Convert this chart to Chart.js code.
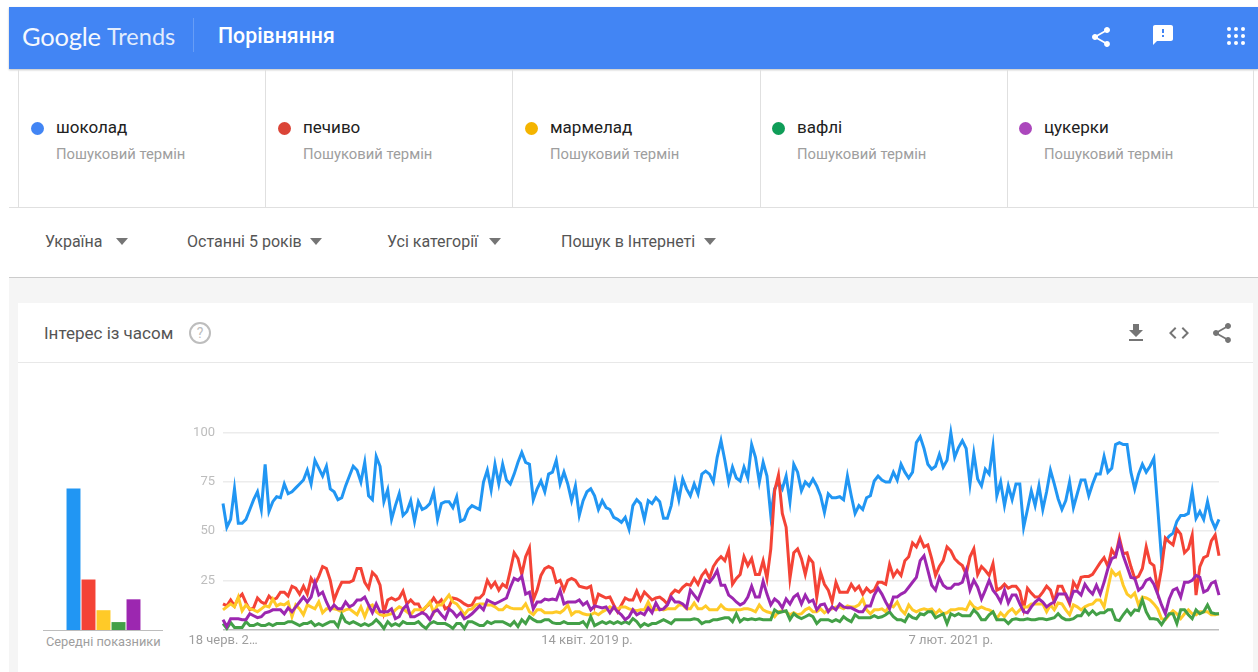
<!DOCTYPE html>
<html lang="uk">
<head>
<meta charset="utf-8">
<title>Порівняння</title>
<script src="https://cdn.jsdelivr.net/npm/chart.js@4"></script>
<style>
  html, body { margin: 0; background: #fff; }
  body { position: relative; width: 1258px; height: 672px; overflow: hidden; font-family: Roboto, sans-serif; }
  .abs { position: absolute; white-space: nowrap; }
  #header { left: 9px; top: 7px; width: 1249px; height: 62px; background: #4285f4; box-shadow: 0 1px 2px rgba(0,0,0,.25); }
  #page { left: 9px; top: 277px; width: 1249px; height: 395px; background: #f5f5f5; border-top: 1px solid #ccc; }
  #card { left: 18px; top: 303px; width: 1235px; height: 369px; background: #fff; }
  .term { top: 70px; height: 137px; border-left: 1px solid #e0e0e0; box-sizing: border-box; }
  .dot { width: 13px; height: 13px; border-radius: 50%; top: 122px; }
  .name { top: 117px; font-size: 17px; color: #212121; }
  .sub { top: 145px; font-size: 14.8px; color: #9e9e9e; }
  .filter { top: 232px; font-size: 16px; color: #555; }
  .arrow { width: 0; height: 0; border-left: 6px solid transparent; border-right: 6px solid transparent; border-top: 7px solid #757575; }
  canvas { position: absolute; }
</style>
</head>
<body>
<div class="abs" id="header"></div>
<div class="abs" style="left:22px;top:21px;font:400 25.5px Lato,sans-serif;letter-spacing:-.2px;color:#fff;opacity:.95">Google</div>
<div class="abs" style="left:107px;top:22px;font:400 23.5px Lato,sans-serif;color:#fff;opacity:.85">Trends</div>
<div class="abs" style="left:193px;top:18px;width:1px;height:34px;background:rgba(255,255,255,.2)"></div>
<div class="abs" style="left:218px;top:23px;font:500 21.3px Roboto,sans-serif;color:#fff">Порівняння</div>

<svg class="abs" style="left:1089px;top:25px" width="24" height="24" viewBox="0 0 24 24" fill="#fff"><path d="M18 16.08c-.76 0-1.44.3-1.96.77L8.91 12.7c.05-.23.09-.46.09-.7s-.04-.47-.09-.7l7.05-4.11c.54.5 1.25.81 2.04.81 1.66 0 3-1.34 3-3s-1.34-3-3-3-3 1.34-3 3c0 .24.04.47.09.7L8.04 9.81C7.5 9.31 6.79 9 6 9c-1.66 0-3 1.34-3 3s1.34 3 3 3c.79 0 1.5-.31 2.04-.81l7.12 4.16c-.05.21-.08.43-.08.65 0 1.61 1.31 2.92 2.92 2.92s2.92-1.31 2.92-2.92-1.31-2.92-2.92-2.92z"/></svg>
<svg class="abs" style="left:1151px;top:23px" width="24" height="24" viewBox="0 0 24 24" fill="#fff"><path d="M20 2H4c-1.1 0-2 .9-2 2v18l4-4h14c1.1 0 2-.9 2-2V4c0-1.1-.9-2-2-2zm-7 12h-2v-2h2v2zm0-4h-2V6h2v4z"/></svg>
<svg class="abs" style="left:1227px;top:27px" width="18" height="18" viewBox="0 0 18 18" fill="#fff"><circle cx="2" cy="2" r="2"/><circle cx="9" cy="2" r="2"/><circle cx="16" cy="2" r="2"/><circle cx="2" cy="9" r="2"/><circle cx="9" cy="9" r="2"/><circle cx="16" cy="9" r="2"/><circle cx="2" cy="16" r="2"/><circle cx="9" cy="16" r="2"/><circle cx="16" cy="16" r="2"/></svg>

<div id="terms"></div>
<div class="abs" style="left:9px;top:207px;width:1249px;height:1px;background:#e0e0e0"></div>
<div class="abs" style="left:1253px;top:70px;width:1px;height:137px;background:#e0e0e0"></div>

<div id="filters"></div>

<div class="abs" id="page"></div>
<div class="abs" id="card"></div>
<div class="abs" style="left:18px;top:362px;width:1235px;height:1px;background:#e8e8e8"></div>
<div class="abs" style="left:44px;top:323px;font-size:17px;color:#555">Інтерес із часом</div>
<svg class="abs" style="left:188px;top:321px" width="24" height="24" viewBox="0 0 24 24" fill="none"><circle cx="12" cy="12" r="10" stroke="#bdbdbd" stroke-width="2"/><text x="12" y="17" text-anchor="middle" font-family="Roboto" font-size="14" fill="#bdbdbd">?</text></svg>
<svg class="abs" style="left:1124px;top:321px" width="24" height="24" viewBox="0 0 24 24" fill="#757575"><path d="M19 9h-4V3H9v6H5l7 7 7-7zM5 18v2h14v-2H5z"/></svg>
<svg class="abs" style="left:1167px;top:321px" width="24" height="24" viewBox="0 0 24 24" fill="#757575"><path d="M9.4 16.6L4.8 12l4.6-4.6L8 6l-6 6 6 6 1.4-1.4zm5.2 0l4.6-4.6-4.6-4.6L16 6l6 6-6 6-1.4-1.4z"/></svg>
<svg class="abs" style="left:1210px;top:321px" width="24" height="24" viewBox="0 0 24 24" fill="#757575"><path d="M18 16.08c-.76 0-1.44.3-1.96.77L8.91 12.7c.05-.23.09-.46.09-.7s-.04-.47-.09-.7l7.05-4.11c.54.5 1.25.81 2.04.81 1.66 0 3-1.34 3-3s-1.34-3-3-3-3 1.34-3 3c0 .24.04.47.09.7L8.04 9.81C7.5 9.31 6.79 9 6 9c-1.66 0-3 1.34-3 3s1.34 3 3 3c.79 0 1.5-.31 2.04-.81l7.12 4.16c-.05.21-.08.43-.08.65 0 1.61 1.31 2.92 2.92 2.92s2.92-1.31 2.92-2.92-1.31-2.92-2.92-2.92z"/></svg>

<canvas id="avg-chart" width="75" height="198" style="left:66px;top:432px"></canvas>
<div class="abs" style="left:43px;top:630px;width:120px;height:1px;background:#bdbdbd"></div>
<div class="abs" style="left:46px;top:634px;font-size:12.8px;color:#9e9e9e">Середні показники</div>
<canvas id="trend-chart" width="1060" height="243" style="left:180px;top:417px"></canvas>

<script>
const termNames = ['шоколад', 'печиво', 'мармелад', 'вафлі', 'цукерки'];
const termSub = 'Пошуковий термін';
const termColors = ['#4285f4', '#db4437', '#f4b400', '#0f9d58', '#ab47bc'];
const lineColors = ['#2196f3', '#f44336', '#ffca28', '#43a047', '#9c27b0'];
const filterNames = ['Україна', 'Останні 5 років', 'Усі категорії', 'Пошук в Інтернеті'];

const tickIndexes = [0, 95, 190];
const tickLabels = ['18 черв. 2…', '14 квіт. 2019 р.', '7 лют. 2021 р.'];
const averages = [71.5, 25.5, 10, 4, 15.5];

const shokolad = [
  64,52,56,71.5,54,54,56,61,66,70,
  61,84,60,65,67.5,67,74,69,70,72,
  74,76,81,74,86,82,78,83,71.5,70,
  66,67,73,78,83,81,75,85,68,66,
  88,83,65,71,56,63,69,58,60,65.5,
  55,65,61,62,64,70,56,64,65,65,
  62,67.5,55,56,61,63,62,61,75,81,
  71,84,74,84,76,74,79,85,90,85,
  84,66,71.5,75.5,70,79,80,86,74,80,
  74,65.5,73,58,65.5,70,71.5,68,61,65.5,
  62,61,57,56,54.5,57,51,63,66,64,
  56,65.5,64,67,65,56.5,56.5,63,75,66,
  76.5,71.5,68,74,69,79,80.5,79,75,87.5,
  96,86,75,82.5,77,75.5,82.5,77,94,87.5,
  75,85,78,58,71.5,75,71.5,78,65,84,
  80,70.5,75,73,76.5,73,68,59.5,69,67,
  67,67.5,66,78,68,59,63,61,67,68,
  75.5,78,76,75,75,80,76,84,80,77,
  80,95,98,92,84,81.5,83,89,82.5,86,
  100,87.5,92.5,96,92,74,89.5,76.5,73,81.5,
  79,93,68,75,63,73,66,74,74,52,
  61,70.5,63,73,61,70,81,74,66.5,61,
  65.5,75,62,69,76,76,68,74,79,79,
  88,80,82,94,95,94,94,80,71.5,79,
  84,80,83,87,62,36,45,47.5,49,55,
  58,58,59,70.5,56.5,60,56,65,56,51.5,
  56,
];

const pechyvo = [
  13,12,15,12,16,18,13.5,10,11,16,
  14,13,17,15,16,19,19,17,22,21,
  18,22,18,26,23,27,32,31,25,15,
  20,24,24,24,25,31,31,24,21,29,
  27,22.5,8.5,15,16,15,16,19.5,13,15,
  13,13,9,11.5,13,16,13,15,10.5,11.5,
  16,15.5,14.5,13,12,12.5,16,16,18,25,
  21.5,24,20,23,21.5,30,39,36,28,37,
  41.5,15,20,27.5,31,32,31,24,25,20,
  25,26,25,22,21.5,21,22,12,18,17,
  16,16.5,12.5,9,12.5,16,15,15,19.5,15,
  19,17,15,16,16.5,15,13,18,20,19,
  21.5,23,22.5,26,23,27.5,30,26,32,35,
  37,35,40.5,23,26,28,37,32.5,36,28,
  28,35,26,41,70.5,78.5,59,52,26,39,
  41,36,28,36.5,34,16.5,29,23,20,14,
  24,19,19,19,23,20,22,18,21,19,
  20,24,24,23,33,27,30,27.5,35,37,
  44,42,46.5,42,43,36,27.5,32,35,42,
  40,36,34,32.5,28,37,41,28,32,30,
  27.5,33.5,20,21,23,21,22,22,19.5,10.5,
  21,18.5,16.5,16.5,19,22,20,14,22,22,
  17.5,13,24,21,26.5,27,27,28,31,34,
  36.5,32,40.5,37.5,46.5,38.5,39,32,26,27,
  31,42,34,32.5,20,31,46.5,44.5,43,51,
  48.5,39,41,48,17.5,32,36.5,37.5,45,48,
  37.5,
];

const marmelad = [
  10,11.5,13,11.5,16.5,9.5,12.5,10.5,10,9,
  10.5,12,11.5,15.5,12,13,12.5,14,6.5,12.5,
  10.5,7.5,12.5,11.5,10.5,14,8.5,10.5,10.5,10.5,
  10,9,10,10.5,9,7.5,11.5,6.5,11.5,12.5,
  9,7.5,7,7.5,8,10,11.5,10.5,9,7.5,
  10,10,10,11.5,14,8.5,12.5,12.5,15,17.5,
  14,13,10.5,7.5,10,10.5,12.5,13,13,12.5,
  12.5,11.5,10,10,12,11,10.5,10.5,10.5,13,
  9,7.5,10,10,8.5,8.5,8.5,9,8.5,10,
  12.5,7.5,9,9,8,7.5,7.5,8.5,7.5,9,
  10,11.5,10.5,10.5,11.5,11.5,10.5,10,9.5,10,
  10,14,10,10,10.5,10,10.5,10.5,10.5,12.5,
  12.5,10.5,10.5,13.5,10.5,10.5,12,10,10,10,
  12.5,10.5,10,10,10,10,10.5,10.5,10,9,
  12.5,10,9,8.5,6.5,9,9.5,9,7.5,8.5,
  7.5,8,10,11,9,9,10.5,8.5,10,10.5,
  11.5,11.5,10.5,12,11.5,11.5,12.5,15.5,10,8,
  10,10,10.5,9,12.5,11.5,14,10,8,12.5,
  10,9,10,10.5,10,10.5,8,10,8,8.5,
  10,10,10.5,10.5,10,14,11.5,10.5,11.5,10.5,
  10,9,5.5,8.5,6.5,9,10.5,8,10,11.5,
  11.5,13,13,13,13,9,12.5,10,13.5,13,
  10,7.5,12.5,11.5,10,11.5,12.5,13,15,15,
  11.5,21,30,27.5,29,22.5,18,16.5,18.5,12.5,
  16.5,16,15,13,10.5,5.5,5,7.5,9.5,8,
  5.5,8,10,8,7.5,9,9,9,7.5,7.5,
  8,
];

const vafli = [
  3,0.5,3.5,1,1,1,4,2,2,3,
  2,2,3,2,3,3,3,4,4,3,
  2,3,3,4,2,3,2,3,4,4,
  1.5,7.5,4,3,4,3,2,3,2,3,
  5,3,0.5,4,2,3,2,4,3,3,
  3,4,2,0.5,3,4,3,3,3,2,
  0.5,3,3,0.5,4,4,3,2,2,4,
  3,4,4,4,3,2,4,1.5,5,3,
  6.5,5,4,4,5,5,3.5,3,3,4,
  3,3,3,3,4,1.5,6.5,2,3,4,
  3,4,3,4,3,4,3,5.5,4,1.5,
  3,2,3,3,4,5,4,3,5,5,
  5,5,5,5.5,5,3,4,4,5,5,
  5.5,6,6,4,8,4,5.5,5,5.5,5,
  5.5,5,5,5,10,8.5,9,9.5,5,8,
  6.5,5.5,6.5,7.5,6.5,3,5,5,5,4,
  5,4,6.5,5,4,7.5,6,6,6,6,
  7,6,6.5,7.5,9,6.5,5,5,4,7.5,
  6,5.5,8,7.5,9,9,6,7,8,3,
  8,7,8,7,7,7,10,8,5,5,
  7.5,9,5,5,5,3,5,5.5,5,5,
  5.5,5,5,5.5,5.5,5,5.5,6,8,6,
  5,5,5.5,7,7,10,7.5,9.5,7.5,8.5,
  8.5,10,10,5,4.5,7.5,10,7.5,10,9.5,
  15,9,5.5,5.5,5,2.5,5.5,8,8,3,
  10,10,7.5,5.5,10,8,9,12.5,8.5,8,
  8,
];

const tsukerky = [
  5,1.5,5.5,5.5,5.5,5,5,8,7,6,
  6.5,8.5,9,10,10,10,8,11,9,11.5,
  14,16.5,14,16.5,24,17.5,19,14,10,12.5,
  10.5,10.5,14,11.5,12.5,15,15,16.5,12.5,8.5,
  13,9,9,9,10.5,5.5,6.5,10.5,12.5,6.5,
  6.5,7.5,8.5,7.5,5,9,10,7.5,5.5,10.5,
  9,6.5,8.5,5.5,6.5,8,10,12,10,15,
  14,13,14,15,16,21.5,26,25,27,18,
  19,10.5,14,14,15.5,15,15.5,15,20,13,
  14,14,14,15,12.5,14,10,12,11.5,11,
  11.5,8.5,11.5,9,7.5,5,6.5,10,7.5,8.5,
  7.5,11,8.5,13.5,10,10.5,12.5,16.5,14,14,
  13,11,20,17.5,15,20,25,24,26.5,30,
  22.5,22.5,17.5,16,14,12.5,13.5,16.5,22,16.5,
  16.5,24.5,18,12.5,15.5,14,11,15.5,13,16.5,
  18,13,17.5,14,15,10,12.5,13,9,11.5,
  10,13,11.5,11,11,10,9,9,12,12,
  17.5,21,18,14,10.5,16.5,16.5,18,19,21.5,
  24,26.5,35,37.5,30,22.5,20,26.5,22.5,21,
  21,23,23,24,30,20,25,21.5,15.5,20,
  25,20,17.5,14,20,13.5,17.5,17.5,13,9,
  8.5,11.5,14,15.5,14,11.5,13,14,18,18,
  18,14,19.5,19.5,17.5,23,20,18,22.5,18,
  24,31,36,37,44.5,37.5,32,26.5,26,20,
  21.5,25,26,23,18,12.5,8,15.5,20,21,
  16.5,24,24,25,27.5,26.5,19,20,23.5,24.5,
  17.5,
];

const series = [shokolad, pechyvo, marmelad, vafli, tsukerky];

function addEl(parent, className, text, style) {
  const el = document.createElement('div');
  el.className = 'abs ' + className;
  if (text) el.textContent = text;
  Object.assign(el.style, style);
  parent.appendChild(el);
}

// top row of search terms
const termsEl = document.getElementById('terms');
const termLefts = [18, 265, 512, 760, 1007];
const termTextLefts = [56, 303, 550, 797, 1044];
termNames.forEach((name, i) => {
  addEl(termsEl, 'term', '', { left: termLefts[i] + 'px', width: '1px' });
  addEl(termsEl, 'dot', '', { left: termTextLefts[i] - 25 + 'px', background: termColors[i] });
  addEl(termsEl, 'name', name, { left: termTextLefts[i] + 'px' });
  addEl(termsEl, 'sub', termSub, { left: termTextLefts[i] + 'px' });
});

const filtersEl = document.getElementById('filters');
const filterLefts = [45, 187, 387, 561];
const arrowLefts = [116, 310, 489, 704];
filterNames.forEach((name, i) => {
  addEl(filtersEl, 'filter', name, { left: filterLefts[i] + 'px' });
  addEl(filtersEl, 'arrow', '', { left: arrowLefts[i] + 'px', top: '238px' });
});

const weekLabels = shokolad.map((_, i) => {
  const pos = tickIndexes.indexOf(i);
  return pos >= 0 ? tickLabels[pos] : '';
});

new Chart(document.getElementById('trend-chart'), {
  type: 'line',
  data: {
    labels: weekLabels,
    datasets: series.map((values, i) => ({
      label: termNames[i],
      data: values,
      borderColor: lineColors[i],
      borderWidth: 3,
      pointRadius: 0,
      tension: 0,
      clip: false,
      order: series.length - i,
    })),
  },
  options: {
    responsive: false,
    animation: false,
    layout: { padding: { top: 9, right: 21 } },
    plugins: { legend: { display: false }, tooltip: { enabled: false } },
    scales: {
      x: {
        grid: { display: false, tickLength: 3 },
        border: { display: false },
        afterFit: (scale) => { scale.height = 30.5; },
        ticks: {
          autoSkip: false,
          maxRotation: 0,
          padding: 0,
          color: '#9e9e9e',
          font: { family: 'Roboto', size: 13 },
          callback: (value, index) => weekLabels[index],
        },
      },
      y: {
        min: 0,
        max: 100,
        border: { display: false },
        afterFit: (scale) => { scale.width = 43; },
        grid: {
          drawTicks: false,
          lineWidth: 1.5,
          color: (c) => (c.tick.value === 0 ? '#bdbdbd' : '#ececec'),
        },
        ticks: {
          stepSize: 25,
          padding: 8,
          color: '#bdbdbd',
          font: { family: 'Roboto', size: 13 },
          callback: (value) => (value === 0 ? '' : value),
        },
      },
    },
  },
});

new Chart(document.getElementById('avg-chart'), {
  type: 'bar',
  data: {
    labels: termNames,
    datasets: [{
      data: averages,
      backgroundColor: lineColors,
      barPercentage: 0.93,
      categoryPercentage: 1,
    }],
  },
  options: {
    responsive: false,
    animation: false,
    plugins: { legend: { display: false }, tooltip: { enabled: false } },
    scales: {
      x: { display: false },
      y: { display: false, min: 0, max: 100 },
    },
  },
});
</script>
</body>
</html>
